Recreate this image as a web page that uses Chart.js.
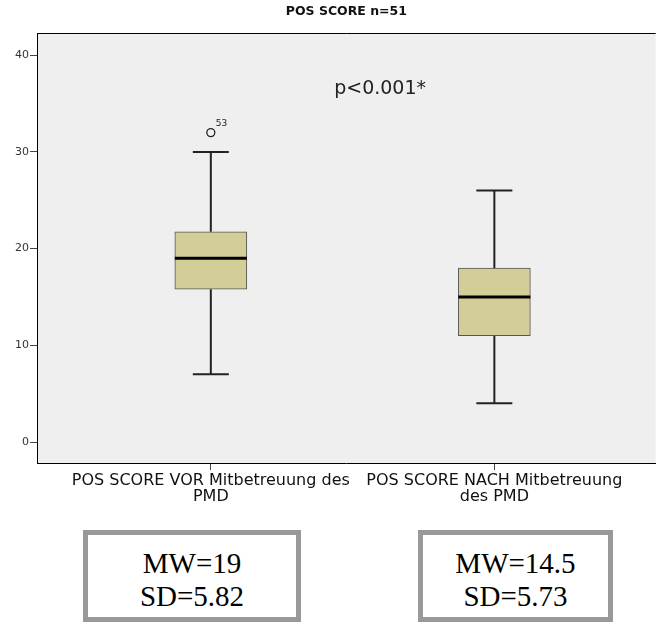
<!DOCTYPE html>
<html>
<head>
<meta charset="utf-8">
<title>POS SCORE n=51</title>
<script src="https://cdn.jsdelivr.net/npm/chart.js@4.4.0/dist/chart.umd.min.js"></script>
<style>
    html, body { margin: 0; padding: 0; background: #fff; }
    #wrap { position: relative; width: 661px; height: 623px; overflow: hidden; }
    #chart { position: absolute; left: 0; top: 0; }
    .stat {
        position: absolute;
        top: 530px;
        height: 92px;
        box-sizing: border-box;
        border: 5px solid #999;
        background: #fff;
        padding-top: 12px;
        text-align: center;
        font-family: 'Liberation Serif', 'Times New Roman', serif;
        font-size: 29px;
        line-height: 33px;
        color: #000;
    }
</style>
</head>
<body>
<div id="wrap">
    <canvas id="chart" width="661" height="623"></canvas>
    <div class="stat" id="stat0" style="left:83px; width:218px;"></div>
    <div class="stat" id="stat1" style="left:418px; width:195px;"></div>
</div>
<script>
// Daten
const categories = [['POS SCORE VOR Mitbetreuung des', 'PMD'], ['POS SCORE NACH Mitbetreuung', 'des PMD']];
const whiskerLow = [7, 4];
const q1 = [15.8, 11];
const medians = [19, 15];
const q3 = [21.75, 18];
const whiskerHigh = [30, 26];
const outlierGroups = [0];
const outlierValues = [32];
const outlierLabels = ['53'];
const yTicks = [0, 10, 20, 30, 40];
const means = [19, 14.5];
const sds = [5.82, 5.73];
const pText = 'p<0.001*';

const xPos = categories.map((c, i) => i + 1);
const BOX_WIDTH = 72;

// Whisker, Median, Hintergrund und Beschriftungen
const boxplotPlugin = {
    id: 'boxplot',
    beforeDraw(chart) {
        const { ctx, chartArea: a } = chart;
        ctx.save();
        ctx.fillStyle = '#efefef';
        ctx.fillRect(a.left, a.top, a.right - a.left, a.bottom - a.top);
        ctx.restore();
    },
    beforeDatasetsDraw(chart) {
        const { ctx, scales: { x, y } } = chart;
        const cap = BOX_WIDTH / 4;
        ctx.save();
        ctx.strokeStyle = '#222';
        ctx.lineWidth = 2;
        xPos.forEach((pos, i) => {
            const px = x.getPixelForValue(pos);
            ctx.beginPath();
            ctx.moveTo(px, y.getPixelForValue(whiskerHigh[i]));
            ctx.lineTo(px, y.getPixelForValue(q3[i]));
            ctx.moveTo(px, y.getPixelForValue(q1[i]));
            ctx.lineTo(px, y.getPixelForValue(whiskerLow[i]));
            ctx.moveTo(px - cap, y.getPixelForValue(whiskerHigh[i]));
            ctx.lineTo(px + cap, y.getPixelForValue(whiskerHigh[i]));
            ctx.moveTo(px - cap, y.getPixelForValue(whiskerLow[i]));
            ctx.lineTo(px + cap, y.getPixelForValue(whiskerLow[i]));
            ctx.stroke();
        });
        ctx.restore();
    },
    afterDatasetsDraw(chart) {
        const { ctx, chartArea: a, scales: { x, y } } = chart;
        ctx.save();
        // Medianlinien
        ctx.strokeStyle = '#000';
        ctx.lineWidth = 3;
        xPos.forEach((pos, i) => {
            const px = x.getPixelForValue(pos);
            const py = y.getPixelForValue(medians[i]);
            ctx.beginPath();
            ctx.moveTo(px - BOX_WIDTH / 2, py);
            ctx.lineTo(px + BOX_WIDTH / 2, py);
            ctx.stroke();
        });
        // obere Rahmenlinie
        ctx.strokeStyle = '#000';
        ctx.lineWidth = 1;
        ctx.beginPath();
        ctx.moveTo(a.left, a.top + 0.5);
        ctx.lineTo(a.right, a.top + 0.5);
        ctx.stroke();
        // Ausreißer-Beschriftung
        const meta = chart.getDatasetMeta(1);
        ctx.fillStyle = '#222';
        ctx.font = '9px "DejaVu Sans"';
        ctx.textAlign = 'left';
        ctx.textBaseline = 'alphabetic';
        meta.data.forEach((pt, i) => {
            ctx.fillText(outlierLabels[i], pt.x + 5, pt.y - 7);
        });
        // p-Wert
        ctx.font = '19px "DejaVu Sans"';
        ctx.textAlign = 'center';
        ctx.fillText(pText, x.getPixelForValue(1.597), y.getPixelForValue(36));
        ctx.restore();
    }
};

new Chart(document.getElementById('chart'), {
    type: 'bar',
    data: {
        datasets: [{
            data: xPos.map((pos, i) => ({ x: pos, y: [q1[i], q3[i]] })),
            backgroundColor: '#d3ce98',
            borderColor: '#555',
            borderWidth: 1,
            borderSkipped: false,
            barThickness: BOX_WIDTH
        }, {
            type: 'scatter',
            data: outlierValues.map((v, i) => ({ x: xPos[outlierGroups[i]], y: v })),
            pointStyle: 'circle',
            pointRadius: 4,
            borderWidth: 1.3,
            borderColor: '#222',
            backgroundColor: 'rgba(0,0,0,0)'
        }]
    },
    options: {
        responsive: false,
        animation: false,
        layout: { padding: 0 },
        plugins: {
            legend: { display: false },
            tooltip: { enabled: false },
            title: {
                display: true,
                text: 'POS SCORE n=51',
                fullSize: false,
                color: '#111',
                font: { family: 'DejaVu Sans', size: 12.5, weight: 'bold' },
                padding: { top: 4, bottom: 14 }
            }
        },
        scales: {
            x: {
                type: 'linear',
                min: 0.387,
                max: 2.569,
                offset: false,
                afterBuildTicks: (s) => { s.ticks = xPos.map(v => ({ value: v })); },
                afterFit: (s) => { s.height = 160; },
                border: { display: true, color: '#000', width: 1 },
                grid: { display: true, offset: false, drawOnChartArea: false, drawTicks: true, tickLength: 7, color: '#444' },
                ticks: {
                    autoSkip: false,
                    maxRotation: 0,
                    minRotation: 0,
                    padding: 2,
                    color: '#111',
                    font: { family: 'DejaVu Sans', size: 16, lineHeight: 1.05 },
                    callback: (v) => categories[v - 1]
                }
            },
            y: {
                min: -2.17,
                max: 42.3,
                afterBuildTicks: (s) => { s.ticks = yTicks.map(v => ({ value: v })); },
                afterFit: (s) => { s.width = 37; },
                border: { display: true, color: '#000', width: 1 },
                grid: { drawOnChartArea: false, drawTicks: true, tickLength: 7, color: '#444' },
                ticks: {
                    padding: 1,
                    color: '#333',
                    font: { family: 'DejaVu Sans', size: 11 }
                }
            }
        }
    },
    plugins: [boxplotPlugin]
});

// Kennwerte-Kästen
means.forEach((m, i) => {
    document.getElementById('stat' + i).innerHTML = 'MW=' + m + '<br>SD=' + sds[i];
});
</script>
</body>
</html>
